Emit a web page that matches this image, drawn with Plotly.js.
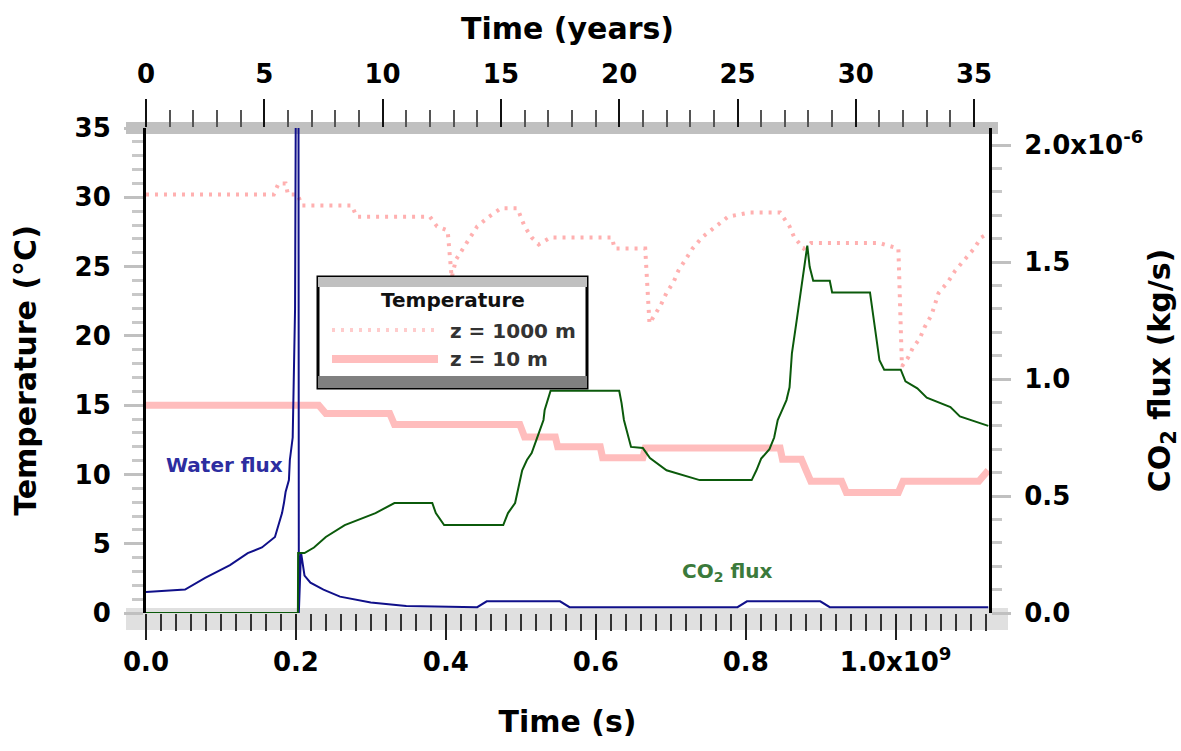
<!DOCTYPE html>
<html>
<head>
<meta charset="utf-8">
<script src="https://cdn.plot.ly/plotly-3.0.1.min.js"></script>
<style>
  html, body { margin: 0; padding: 0; background: #ffffff; }
  #chart { width: 1181px; height: 751px; }
</style>
</head>
<body>
<div id="chart"></div>
<script>
// ---------------- data ----------------
// Temperature at z = 1000 m (left axis, °C) vs time (years)
const years1000 = [0, 4.0, 5.4, 5.6, 5.9, 6.0, 6.4, 6.6, 8.7, 8.9, 12.0, 12.3, 12.75, 12.92, 13.1, 13.4, 13.7, 14.0, 14.5, 15.0, 15.7, 16.0, 16.3, 16.6, 17.1, 19.7, 19.8, 21.1, 21.28, 21.5, 21.75, 22.0, 22.3, 22.5, 22.8, 23.1, 23.5, 24.1, 24.6, 25.5, 26.8, 27.2, 27.4, 27.8, 28.1, 31.0, 31.8, 31.95, 32.2, 32.4, 32.7, 32.9, 33.2, 33.5, 33.9, 34.2, 34.6, 35.0, 35.3, 35.6];
const temp1000  = [30.2, 30.2, 30.2, 31.0, 31.0, 30.2, 30.2, 29.4, 29.4, 28.6, 28.6, 27.9, 27.6, 24.2, 25.5, 26.3, 27.1, 27.9, 28.6, 29.2, 29.2, 27.9, 27.1, 26.6, 27.1, 27.1, 26.3, 26.3, 20.9, 21.5, 22.2, 23.1, 23.9, 24.7, 25.5, 26.3, 27.1, 27.9, 28.6, 28.9, 28.9, 27.9, 27.1, 26.3, 26.7, 26.7, 26.3, 17.8, 18.4, 19.1, 19.8, 20.6, 21.5, 23.1, 23.9, 24.7, 25.5, 26.3, 27.1, 27.4];

// Temperature at z = 10 m (left axis, °C)
const years10 = [0, 7.3, 7.6, 10.3, 10.5, 15.8, 16.0, 17.3, 17.4, 19.2, 19.3, 21.0, 21.1, 26.8, 26.9, 27.7, 27.9, 28.1, 29.4, 29.6, 31.8, 32.0, 35.2, 35.6];
const temp10  = [15.0, 15.0, 14.4, 14.4, 13.6, 13.6, 12.7, 12.7, 12.0, 12.0, 11.2, 11.2, 11.9, 11.9, 11.1, 11.1, 10.3, 9.5, 9.5, 8.7, 8.7, 9.5, 9.5, 10.3];

// Water flux (right axis)
const yearsWater = [0, 1.65, 2.5, 3.55, 4.3, 4.9, 5.45, 5.6, 5.75, 5.83, 5.9, 6.04, 6.08, 6.2, 6.3, 6.36, 6.44, 6.46, 6.55, 6.7, 6.95, 7.5, 8.2, 9.5, 11.0, 14.0, 14.4, 17.5, 17.9, 25.0, 25.4, 28.5, 28.9, 35.6];
const waterFlux  = [0.09, 0.10, 0.15, 0.205, 0.256, 0.28, 0.325, 0.376, 0.427, 0.47, 0.517, 0.568, 0.654, 0.75, 1.3, 3.0, 3.0, 0.0, 0.26, 0.16, 0.13, 0.10, 0.07, 0.045, 0.03, 0.025, 0.05, 0.05, 0.025, 0.025, 0.05, 0.05, 0.025, 0.025];

// CO2 flux (right axis)
const yearsCO2 = [0, 6.42, 6.43, 6.7, 7.1, 7.6, 8.4, 9.7, 10.5, 12.1, 12.25, 12.6, 15.1, 15.3, 15.6, 15.75, 15.9, 16.1, 16.3, 16.5, 16.8, 16.85, 17.0, 17.1, 20.0, 20.1, 20.2, 20.35, 20.5, 21.0, 21.3, 22.0, 23.4, 25.6, 25.8, 26.0, 26.35, 26.55, 26.7, 26.9, 27.07, 27.2, 27.3, 27.5, 27.6, 27.75, 27.9, 27.95, 28.05, 28.2, 28.9, 29.0, 30.6, 30.7, 30.8, 30.9, 31.0, 31.2, 31.9, 32.1, 32.6, 33.0, 34.0, 34.4, 35.6];
const co2Flux  = [0, 0, 0.256, 0.256, 0.28, 0.325, 0.376, 0.427, 0.47, 0.47, 0.427, 0.376, 0.376, 0.427, 0.47, 0.54, 0.61, 0.654, 0.684, 0.74, 0.825, 0.868, 0.923, 0.95, 0.95, 0.897, 0.825, 0.77, 0.71, 0.705, 0.662, 0.61, 0.568, 0.568, 0.61, 0.66, 0.70, 0.75, 0.825, 0.87, 0.91, 0.965, 1.11, 1.25, 1.32, 1.42, 1.54, 1.57, 1.48, 1.42, 1.42, 1.37, 1.37, 1.30, 1.22, 1.14, 1.08, 1.04, 1.04, 0.99, 0.96, 0.92, 0.88, 0.84, 0.80];

// Axis ticks / labels
const secondsTickVals = [0, 2e8, 4e8, 6e8, 8e8, 1e9];
const secondsTickText = ['0.0', '0.2', '0.4', '0.6', '0.8', '1.0x10<sup>9</sup>'];
const fluxTickVals = [0, 0.5, 1.0, 1.5, 2.0];
const fluxTickText = ['0.0', '0.5', '1.0', '1.5', '2.0x10<sup>-6</sup>'];
const seriesNames = ['z = 1000 m', 'z = 10 m', 'Water flux', 'CO<sub>2</sub> flux'];

// axis extents
const SECONDS_MAX = 1.1245e9;
const YEARS_MAX = 35.63;
const TEMP_MAX = 35;
const FLUX_MAX = 2.073;

// ---------------- plot ----------------
const FONT = 'DejaVu Sans, Liberation Sans, sans-serif';
const tickFont = {family: FONT, size: 26, color: '#000', weight: 'bold'};
const titleFont = {family: FONT, size: 30, color: '#000', weight: 'bold'};

const traces = [
  { x: years1000, y: temp1000, xaxis: 'x2', yaxis: 'y', mode: 'lines', name: seriesNames[0],
    line: {color: '#ffb0b0', width: 4, dash: '3px,6px'}, showlegend: false, hoverinfo: 'skip' },
  { x: years10, y: temp10, xaxis: 'x2', yaxis: 'y', mode: 'lines', name: seriesNames[1],
    line: {color: '#ffbdbd', width: 7}, showlegend: false, hoverinfo: 'skip' },
  { x: yearsWater, y: waterFlux, xaxis: 'x2', yaxis: 'y2', mode: 'lines', name: seriesNames[2],
    line: {color: '#10108a', width: 2}, showlegend: false, hoverinfo: 'skip' },
  { x: yearsCO2, y: co2Flux, xaxis: 'x2', yaxis: 'y2', mode: 'lines', name: seriesNames[3],
    line: {color: '#0b5a0b', width: 2}, showlegend: false, hoverinfo: 'skip' },
  // carrier for the bottom (seconds) axis
  { x: [null], y: [null], xaxis: 'x', yaxis: 'y', mode: 'lines', showlegend: false, hoverinfo: 'skip' }
];

// paper helpers (plot area: x 146..989 px, y 128..613 px)
const L = 146, R = 989, T = 128, B = 613;
const px = v => (v - L) / (R - L);
const py = v => (B - v) / (B - T);

const shapes = [
  // top axis band
  {type: 'rect', xref: 'paper', yref: 'paper', x0: px(126), x1: px(998), y0: py(134), y1: py(122),
   fillcolor: '#c0c0c0', line: {width: 0}, layer: 'below'},
  // bottom axis band
  {type: 'rect', xref: 'paper', yref: 'paper', x0: px(126), x1: px(1008), y0: py(630), y1: py(608),
   fillcolor: '#e0e0e0', line: {width: 0}, layer: 'below'},
  // legend frame
  {type: 'rect', xref: 'paper', yref: 'paper', x0: px(318), x1: px(587), y0: py(388), y1: py(277),
   fillcolor: '#ffffff', line: {color: '#000', width: 3}, layer: 'above'},
  {type: 'rect', xref: 'paper', yref: 'paper', x0: px(318), x1: px(587), y0: py(287), y1: py(277),
   fillcolor: '#c0c0c0', line: {width: 0}, layer: 'above'},
  {type: 'rect', xref: 'paper', yref: 'paper', x0: px(318), x1: px(587), y0: py(388), y1: py(376),
   fillcolor: '#808080', line: {width: 0}, layer: 'above'},
  // legend swatches
  {type: 'line', xref: 'paper', yref: 'paper', x0: px(332), x1: px(436), y0: py(330), y1: py(330),
   line: {color: '#ffcccc', width: 4, dash: '3px,6px'}, layer: 'above'},
  {type: 'line', xref: 'paper', yref: 'paper', x0: px(332), x1: px(438), y0: py(359), y1: py(359),
   line: {color: '#ffbdbd', width: 8}, layer: 'above'}
];

const annFont = {family: FONT, size: 20, weight: 'bold'};
const annotations = [
  {xref: 'paper', yref: 'paper', x: px(453), y: py(300), text: 'Temperature', showarrow: false,
   xanchor: 'center', yanchor: 'middle', font: Object.assign({}, annFont, {color: '#111'})},
  {xref: 'paper', yref: 'paper', x: px(448), y: py(331), text: seriesNames[0], showarrow: false,
   xanchor: 'left', yanchor: 'middle', font: Object.assign({}, annFont, {color: '#333'})},
  {xref: 'paper', yref: 'paper', x: px(448), y: py(359), text: seriesNames[1], showarrow: false,
   xanchor: 'left', yanchor: 'middle', font: Object.assign({}, annFont, {color: '#333'})},
  {xref: 'paper', yref: 'paper', x: px(224), y: py(465), text: seriesNames[2], showarrow: false,
   xanchor: 'center', yanchor: 'middle', font: Object.assign({}, annFont, {color: '#2d2da0'})},
  {xref: 'paper', yref: 'paper', x: px(727), y: py(572), text: seriesNames[3], showarrow: false,
   xanchor: 'center', yanchor: 'middle', font: Object.assign({}, annFont, {color: '#3b7a3b'})}
];

const layout = {
  width: 1181, height: 751,
  margin: {l: L, r: 1181 - R, t: T, b: 751 - B, pad: 0},
  paper_bgcolor: '#ffffff',
  plot_bgcolor: 'rgba(0,0,0,0)',
  showlegend: false,
  font: {family: FONT, color: '#000'},
  xaxis: {
    range: [0, SECONDS_MAX], side: 'bottom', anchor: 'y',
    tickmode: 'array', tickvals: secondsTickVals, ticktext: secondsTickText,
    ticks: 'outside', ticklen: 26, tickwidth: 2, tickcolor: '#222',
    minor: {tickmode: 'linear', tick0: 0, dtick: 2e7, ticks: 'outside', ticklen: 17, tickwidth: 2, tickcolor: '#333', showgrid: false},
    showline: false, showgrid: false, zeroline: false,
    tickfont: tickFont, ticklabelstandoff: 0,
    title: {text: 'Time (s)', font: titleFont, standoff: 34}
  },
  xaxis2: {
    range: [0, YEARS_MAX], side: 'top', overlaying: 'x', anchor: 'y',
    tickmode: 'linear', tick0: 0, dtick: 5,
    ticks: 'outside', ticklen: 28, tickwidth: 2, tickcolor: '#111',
    minor: {tickmode: 'linear', tick0: 0, dtick: 1, ticks: 'outside', ticklen: 17, tickwidth: 2, tickcolor: '#555', showgrid: false},
    showline: false, showgrid: false, zeroline: false,
    tickfont: tickFont, ticklabelstandoff: 6,
    title: {text: 'Time (years)', font: titleFont, standoff: 10}
  },
  yaxis: {
    range: [0, TEMP_MAX], side: 'left', anchor: 'x',
    tickmode: 'linear', tick0: 0, dtick: 5,
    ticks: 'outside', ticklen: 19, tickwidth: 3, tickcolor: '#c0c0c0',
    minor: {tickmode: 'linear', tick0: 0, dtick: 1, ticks: 'outside', ticklen: 11, tickwidth: 3, tickcolor: '#c8c8c8', showgrid: false},
    showline: true, linecolor: '#000', linewidth: 3,
    showgrid: false, zeroline: false,
    tickfont: tickFont, ticklabelstandoff: 8,
    title: {text: 'Temperature (°C)', font: titleFont, standoff: 30}
  },
  yaxis2: {
    range: [0, FLUX_MAX], side: 'right', overlaying: 'y', anchor: 'x',
    tickmode: 'array', tickvals: fluxTickVals, ticktext: fluxTickText,
    ticks: 'outside', ticklen: 19, tickwidth: 3, tickcolor: '#c0c0c0',
    minor: {tickmode: 'linear', tick0: 0, dtick: 0.1, ticks: 'outside', ticklen: 10, tickwidth: 3, tickcolor: '#c8c8c8', showgrid: false},
    showline: true, linecolor: '#000', linewidth: 3,
    showgrid: false, zeroline: false,
    tickfont: tickFont, ticklabelstandoff: 8,
    title: {text: 'CO<sub>2</sub> flux (kg/s)', font: titleFont, standoff: 12}
  },
  shapes: shapes,
  annotations: annotations
};

Plotly.newPlot('chart', traces, layout, {displayModeBar: false, staticPlot: true});
</script>
</body>
</html>
